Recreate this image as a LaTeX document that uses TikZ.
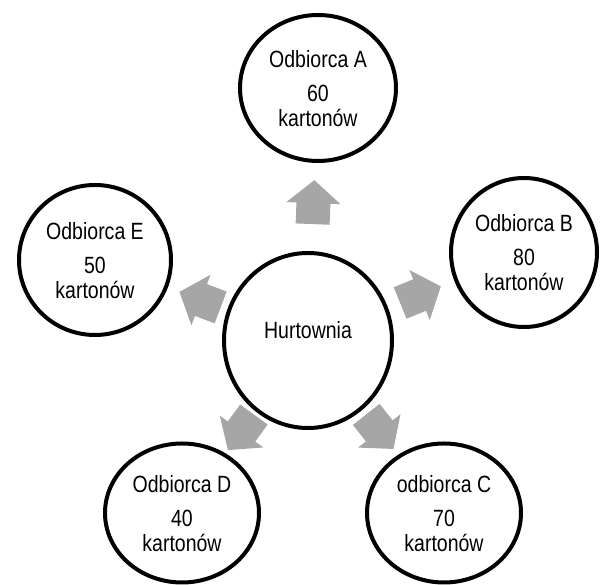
\documentclass[tikz,border=0pt]{standalone}
\usepackage{fontspec}
\setmainfont{Liberation Sans}[FakeStretch=0.83]
\usepackage{tikz}
\usetikzlibrary{arrows.meta, positioning, shapes.geometric, calc}
\definecolor{flowgray}{RGB}{166,166,166}

\begin{document}
\begin{tikzpicture}[x=1pt,y=1pt,
    hub/.style={ellipse,draw,line width=4pt,inner sep=0pt,
      minimum width=168pt,minimum height=175pt,text depth=20.5pt,
      font=\fontsize{23.5}{25}\selectfont},
    client/.style={ellipse,draw,line width=4pt,inner sep=0pt,align=center,
      text depth=0pt,font=\fontsize{23.5}{25}\selectfont},
    flow/.style={fill=flowgray,draw=none},
  ]
  \useasboundingbox (0,0) rectangle (600,585);

  % Hurtownia
  \node[hub] (hub) at (308,244.5) {Hurtownia};

  % Odbiorcy
  \node[client,minimum width=156pt,minimum height=146pt] (odbA) at (318,497) {Odbiorca A\\[9pt]60\\kartonów};
  \node[client,minimum width=146pt,minimum height=149pt] (odbB) at (524,332.5) {Odbiorca B\\[9pt]80\\kartonów};
  \node[client,minimum width=154pt,minimum height=139pt] (odbC) at (444,72) {odbiorca C\\[9pt]70\\kartonów};
  \node[client,minimum width=154pt,minimum height=139pt] (odbD) at (182,72) {Odbiorca D\\[9pt]40\\kartonów};
  \node[client,minimum width=152pt,minimum height=150pt] (odbE) at (95,325) {Odbiorca E\\[9pt]50\\kartonów};

  % Strzalki (blokowe, 44pt dlugosci)
  \foreach \odb/\gap in {odbA/27pt, odbB/13pt, odbC/6pt, odbD/3.5pt, odbE/7pt} {
    \path (hub) -- (\odb) coordinate[pos=0] (s) coordinate[pos=1] (e);
    \coordinate (p0) at ($(s)!\gap!(e)$);
    \coordinate (hb) at ($(p0)!21pt!(e)$);
    \coordinate (p1) at ($(p0)!44pt!(e)$);
    \fill[flow] ($(p0)!17pt!90:(e)$) -- ($(hb)!17pt!90:(e)$) -- ($(hb)!27pt!90:(e)$)
      -- (p1) -- ($(hb)!27pt!-90:(e)$) -- ($(hb)!17pt!-90:(e)$)
      -- ($(p0)!17pt!-90:(e)$) -- cycle;
  }
\end{tikzpicture}
\end{document}
